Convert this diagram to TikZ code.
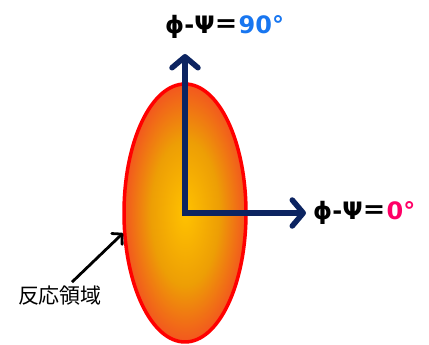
\documentclass[tikz,border=0pt]{standalone}
\usepackage{fontspec}
\setmainfont{DejaVu Sans}
\newfontfamily\jpfont{Noto Sans CJK JP}
\usetikzlibrary{arrows.meta,shapes.geometric,positioning}

\definecolor{axisblue}{RGB}{12,36,97}
\definecolor{rimred}{RGB}{255,0,0}
\definecolor{angblue}{RGB}{24,118,240}
\definecolor{angpink}{RGB}{255,0,102}
\pgfdeclareradialshading{glow}{\pgfpoint{0bp}{0bp}}{%
  rgb(0bp)=(1,0.76,0);rgb(14bp)=(0.93,0.62,0.02);rgb(25bp)=(0.95,0.34,0.12);rgb(50bp)=(0.95,0.34,0.12)}

\begin{document}
\begin{tikzpicture}[x=1pt, y=1pt,
    axis/.style={draw=axisblue, line width=5.5pt,
      -{Straight Barb[length=11pt, width=26pt, line width=5.5pt, round]}},
    anglabel/.style={font=\bfseries\fontsize{24}{28}\selectfont, inner sep=0pt}]
    \useasboundingbox (0, 0) rectangle (429, 345);
    % reaction region
    \node[ellipse, minimum width=122, minimum height=258, inner sep=0pt,
      shading=glow, draw=rimred, line width=3.5pt]
      (region) at (185, 132) {};
    \coordinate (vtip) at (185, 291);
    \coordinate (htip) at (306, 132);
    \draw[axis] (region.center) -- (vtip);
    \draw[axis] ([xshift=-2.75pt]region.center) -- (htip);
    \node[anglabel, anchor=west] (vlabel) at (165, 318)
      {ϕ-Ψ{\jpfont ＝}\textcolor{angblue}{90°}};
    \node[anglabel, anchor=west, right=7pt of htip] (hlabel)
      {ϕ-Ψ{\jpfont ＝}\textcolor{angpink}{0°}};
    % label with pointer
    \node[font=\jpfont\fontsize{21}{24}\selectfont, inner sep=0pt] (area) at (60, 49) {反応領域};
    \draw[line width=2.8pt, -{Straight Barb[length=7pt, width=15pt, round]}]
      ([xshift=12pt, yshift=4pt]area.north) -- (region.198);
\end{tikzpicture}
\end{document}
